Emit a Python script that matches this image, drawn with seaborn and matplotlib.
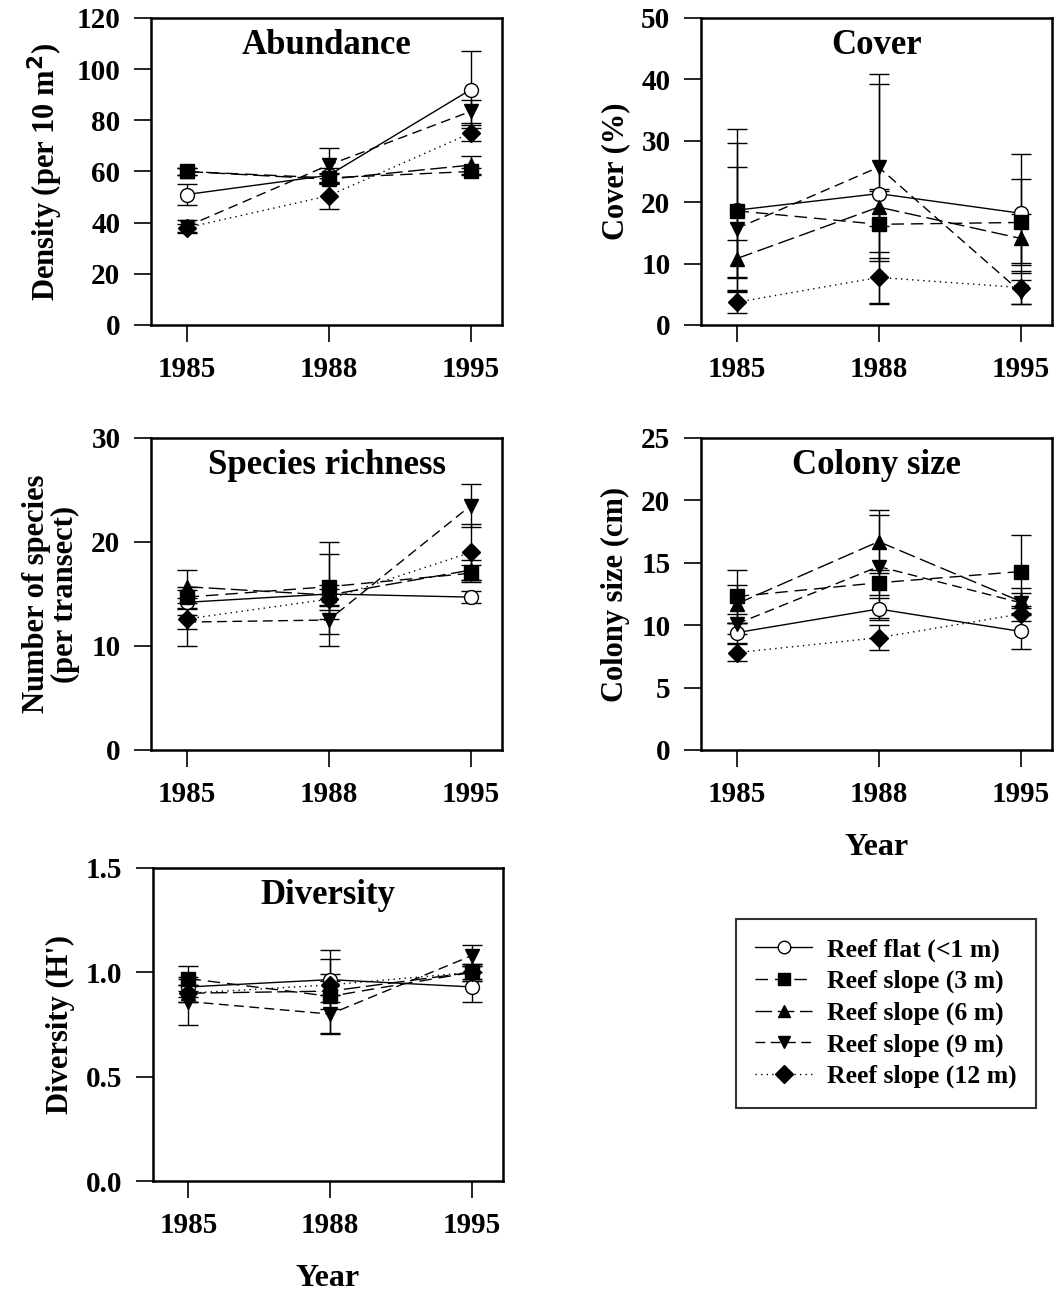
import numpy as np
import pandas as pd
import matplotlib
matplotlib.use("Agg")
import matplotlib.pyplot as plt
import seaborn as sns

# ── DATA ───────────────────────────────────────────────────
years = ["1985", "1988", "1995"]
sites = ["Reef flat (<1 m)", "Reef slope (3 m)", "Reef slope (6 m)",
         "Reef slope (9 m)", "Reef slope (12 m)"]

# Abundance (per 10 m2)
abund_flat = [51, 58.5, 92];   abund_flat_se = [4, 3, 15]
abund_3m = [60, 57.5, 60];     abund_3m_se = [1.5, 2, 1.5]
abund_6m = [60, 57, 62.5];     abund_6m_se = [1.5, 2, 3.5]
abund_9m = [38.5, 62.5, 83.5]; abund_9m_se = [2.5, 6.5, 4.5]
abund_12m = [38, 50.5, 75];    abund_12m_se = [1.5, 5, 3]

# Cover (%)
cover_flat = [18.7, 21.4, 18.2]; cover_flat_se = [11, 17.9, 9.7]
cover_3m = [18.6, 16.4, 16.7];   cover_3m_se = [13.3, 5.5, 7]
cover_6m = [10.8, 19.2, 14.1];   cover_6m_se = [3, 3, 4]
cover_9m = [15.7, 25.7, 5.4];    cover_9m_se = [10, 15.2, 2]
cover_12m = [3.7, 7.75, 6.1];    cover_12m_se = [1.8, 4.2, 2.7]

# Species richness (per transect)
rich_flat = [14.2, 15.0, 14.7]; rich_flat_se = [1.2, 5.0, 0.6]
rich_3m = [14.7, 15.7, 17.0];   rich_3m_se = [1.0, 3.1, 0.8]
rich_6m = [15.7, 14.9, 17.3];   rich_6m_se = [1.6, 1.0, 1.0]
rich_9m = [12.3, 12.5, 23.5];   rich_9m_se = [2.3, 1.3, 2.1]
rich_12m = [12.6, 14.5, 19.0];  rich_12m_se = [1.0, 1.0, 2.7]

# Colony size (cm)
col_flat = [9.4, 11.3, 9.5];   col_flat_se = [0.8, 0.9, 1.4]
col_3m = [12.3, 13.4, 14.3];   col_3m_se = [2.1, 1.0, 2.9]
col_6m = [11.7, 16.7, 11.9];   col_6m_se = [1.5, 2.5, 1.1]
col_9m = [10.1, 14.7, 11.8];   col_9m_se = [0.8, 4.1, 0.8]
col_12m = [7.8, 9.0, 10.9];    col_12m_se = [0.7, 1.0, 0.6]

# Diversity (H')
div_flat = [0.93, 0.965, 0.93]; div_flat_se = [0.05, 0.14, 0.07]
div_3m = [0.97, 0.885, 1.0];    div_3m_se = [0.06, 0.18, 0.04]
div_6m = [0.90, 0.91, 1.0];     div_6m_se = [0.04, 0.05, 0.04]
div_9m = [0.86, 0.80, 1.08];    div_9m_se = [0.11, 0.09, 0.05]
div_12m = [0.90, 0.94, 1.0];    div_12m_se = [0.04, 0.05, 0.03]

# ── STYLE ─────────────────────────────────────────────────
sns.set_theme(style="ticks")
plt.rcParams["font.family"] = ["Liberation Serif", "DejaVu Serif"]
plt.rcParams["font.weight"] = "bold"
plt.rcParams["axes.labelweight"] = "bold"
plt.rcParams["axes.titleweight"] = "bold"
for key in ["text.color", "axes.labelcolor", "xtick.color", "ytick.color",
            "axes.edgecolor"]:
    plt.rcParams[key] = "black"

MARKERS = ["o", "s", "^", "v", "D"]
FACES = ["white", "black", "black", "black", "black"]
LINESTYLES = ["-", (0, (9, 5)), (0, (12, 4)), (0, (7, 4)), (0, (1, 3))]


def long_form(series, errs):
    rows = []
    for site, vals, se in zip(sites, series, errs):
        for i, (v, e) in enumerate(zip(vals, se)):
            rows.append({"site": site, "x": i, "value": v, "se": e})
    return pd.DataFrame(rows)


panels = [
    ("Abundance", "Density (per 10 m$\\mathbf{^2}$)",
     [abund_flat, abund_3m, abund_6m, abund_9m, abund_12m],
     [abund_flat_se, abund_3m_se, abund_6m_se, abund_9m_se, abund_12m_se],
     (0, 120), np.arange(0, 121, 20), [151, 18, 502, 325], False),
    ("Cover", "Cover (%)",
     [cover_flat, cover_3m, cover_6m, cover_9m, cover_12m],
     [cover_flat_se, cover_3m_se, cover_6m_se, cover_9m_se, cover_12m_se],
     (0, 50), np.arange(0, 51, 10), [701, 18, 1052, 325], False),
    ("Species richness", "Number of species\n(per transect)",
     [rich_flat, rich_3m, rich_6m, rich_9m, rich_12m],
     [rich_flat_se, rich_3m_se, rich_6m_se, rich_9m_se, rich_12m_se],
     (0, 30), np.arange(0, 31, 10), [151, 438, 502, 750], False),
    ("Colony size", "Colony size (cm)",
     [col_flat, col_3m, col_6m, col_9m, col_12m],
     [col_flat_se, col_3m_se, col_6m_se, col_9m_se, col_12m_se],
     (0, 25), np.arange(0, 26, 5), [701, 438, 1052, 750], True),
    ("Diversity", "Diversity (H')",
     [div_flat, div_3m, div_6m, div_9m, div_12m],
     [div_flat_se, div_3m_se, div_6m_se, div_9m_se, div_12m_se],
     (0, 1.5), np.arange(0, 1.51, 0.5), [153, 868, 503, 1181], True),
]

W, H = 1057, 1295
fig = plt.figure(figsize=(W / 100, H / 100), dpi=100)
fig.patch.set_facecolor("white")

handles = []
for title, ylabel, series, errs, ylim, yticks, box, show_year in panels:
    x0, y0, x1, y1 = box
    ax = fig.add_axes([x0 / W, 1 - y1 / H, (x1 - x0) / W, (y1 - y0) / H])
    df = long_form(series, errs)

    for k, site in enumerate(sites):
        sub = df[df["site"] == site]
        ax.errorbar(sub["x"], sub["value"], yerr=sub["se"], fmt="none",
                    ecolor="black", elinewidth=1.0, capsize=7, capthick=1.0,
                    zorder=2)
        sns.lineplot(data=sub, x="x", y="value", ax=ax, color="black",
                     marker=MARKERS[k], markersize=10 if k != 4 else 9,
                     markerfacecolor=FACES[k], markeredgecolor="black",
                     markeredgewidth=1.0, linestyle=LINESTYLES[k],
                     linewidth=1.0, errorbar=None, zorder=3 + k)

    ax.set_xlim(-0.25, 2.22)
    ax.set_ylim(*ylim)
    ax.set_xticks([0, 1, 2])
    ax.set_xticklabels(years)
    ax.set_yticks(yticks)
    ax.tick_params(axis="both", direction="out", length=12, width=1.2,
                   labelsize=21, pad=10, colors="black")
    for lab in ax.get_xticklabels() + ax.get_yticklabels():
        lab.set_fontweight("bold")
    for sp in ax.spines.values():
        sp.set_visible(True)
        sp.set_linewidth(1.8)
        sp.set_color("black")
    ax.text(0.5, 0.965, title, transform=ax.transAxes, ha="center", va="top",
            fontsize=25, fontweight="bold")
    ax.set_ylabel(ylabel, fontsize=22, fontweight="bold", labelpad=8,
                  linespacing=1.0)
    if show_year:
        ax.set_xlabel("Year", fontsize=23, fontweight="bold", labelpad=18)
    else:
        ax.set_xlabel("")
    if ax.get_legend() is not None:
        ax.get_legend().remove()
    if not handles:
        handles = [plt.Line2D([], [], color="black", marker=MARKERS[k],
                              markersize=9, markerfacecolor=FACES[k],
                              markeredgecolor="black", linestyle=LINESTYLES[k],
                              linewidth=1.0)
                   for k in range(len(sites))]

leg = fig.legend(handles, sites, loc="upper left",
                 bbox_to_anchor=(736 / W, 1 - 919 / H), borderaxespad=0,
                 frameon=True, fancybox=False, edgecolor="black",
                 fontsize=18.5, handlelength=2.2, handletextpad=0.6,
                 borderpad=0.75, labelspacing=0.32)
leg.get_frame().set_linewidth(1.5)
for t in leg.get_texts():
    t.set_fontweight("bold")

fig.savefig("out.png", dpi=100, facecolor="white")
